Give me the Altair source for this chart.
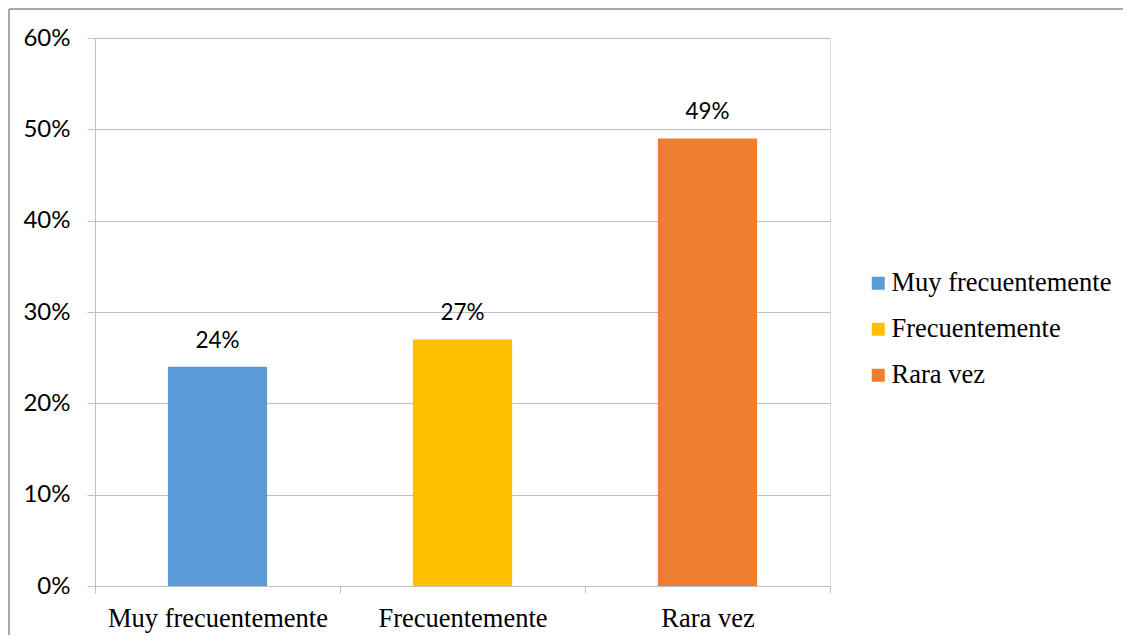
import altair as alt
import pandas as pd

categories = ["Muy frecuentemente", "Frecuentemente", "Rara vez"]
values = [0.24, 0.27, 0.49]
labels = ["24%", "27%", "49%"]
colors = ["#5B9BD5", "#FFC000", "#ED7D31"]

df = pd.DataFrame({"cat": categories, "val": values, "lab": labels})

W, H = 735, 548
PL, PT = 87, 30

x = alt.X("cat:N", sort=categories, title=None,
          scale=alt.Scale(paddingInner=0, paddingOuter=0),
          axis=alt.Axis(labelAngle=0, labelFont="Liberation Serif", labelFontSize=26.5,
                        labelColor="#000000", domainColor="#BFBFBF", tickColor="#BFBFBF",
                        tickSize=7, tickBand="extent", labelPadding=12, labelLimit=400,
                        grid=False))
y = alt.Y("val:Q", title=None,
          scale=alt.Scale(domain=[0, 0.6], nice=False),
          axis=alt.Axis(format=".0%", values=[0, 0.1, 0.2, 0.3, 0.4, 0.5, 0.6],
                        labelFont="Lato", labelFontSize=24, labelColor="#000000",
                        domainColor="#BFBFBF", tickColor="#BFBFBF", tickSize=8,
                        labelPadding=17, gridColor="#BFBFBF", grid=True))

bars = alt.Chart(df).mark_bar(width=alt.RelativeBandSize(0.405)).encode(
    x=x, y=y,
    color=alt.Color("cat:N", sort=categories,
                    scale=alt.Scale(domain=categories, range=colors),
                    legend=alt.Legend(title=None, orient="none", legendX=770, legendY=232,
                                      symbolType="square", symbolSize=169,
                                      symbolStrokeWidth=0, labelFont="Liberation Serif",
                                      labelFontSize=26.5, labelColor="#000000",
                                      labelOffset=0, rowPadding=19, padding=0,
                                      labelLimit=400)),
)

text = alt.Chart(df).mark_text(font="Lato", fontSize=22.5, color="#000000",
                               baseline="alphabetic", dy=-19).encode(
    x=alt.X("cat:N", sort=categories), y="val:Q", text="lab:N")

border = alt.Chart(alt.Data(values=[{}])).mark_rule(color="#8C8C8C", strokeWidth=1.5).encode(
    x=alt.value(-PL + 1), x2=alt.value(W + 400), y=alt.value(-PT + 1))
border2 = alt.Chart(alt.Data(values=[{}])).mark_rule(color="#8C8C8C", strokeWidth=1.5).encode(
    x=alt.value(-PL + 1), y=alt.value(-PT + 1), y2=alt.value(H + 200))

chart = alt.layer(bars, text, border, border2).properties(
    width=W, height=H,
    autosize=alt.AutoSizeParams(type="none"),
    padding={"left": PL, "top": PT, "right": 1117 - PL - W - 2, "bottom": 627 - PT - H},
).configure_view(stroke=None).configure(background="white")

chart.save("out.html", embed_options={"renderer": "svg", "actions": False})
